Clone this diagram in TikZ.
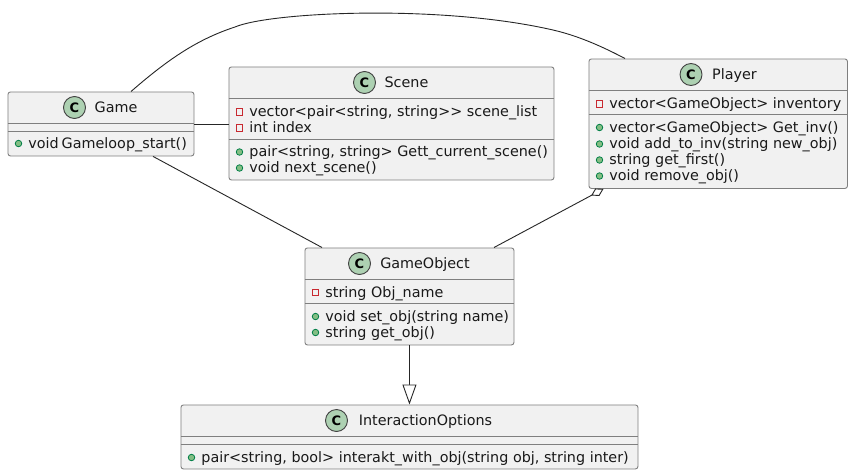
\documentclass[tikz,border=0pt]{standalone}
\usepackage{fontspec}
\setmainfont{DejaVu Sans}
\usetikzlibrary{arrows.meta,calc}
\definecolor{boxfill}{HTML}{F1F1F1}
\definecolor{boxline}{HTML}{7F7F7F}
\definecolor{badge}{HTML}{ADD1B2}
\definecolor{privred}{HTML}{C82930}
\definecolor{pubfill}{HTML}{84BE84}
\definecolor{publine}{HTML}{038048}
\tikzset{
  x=1pt,y=-1pt,
  classbox/.style={draw=boxline,fill=boxfill,line width=0.9pt,rounded corners=2.5pt,inner sep=0,anchor=north west},
  sepline/.style={draw=boxline,line width=0.9pt},
  txt/.style={inner sep=0,anchor=base west,font=\fontsize{14.35}{16}\selectfont,text=black!90},
  ctext/.style={inner sep=0,anchor=base,font=\fontsize{14.35}{16}\selectfont,text=black!90},
  badgeshape/.style={circle,draw=black!75,fill=badge,line width=0.9pt,minimum size=22pt,inner sep=0,font=\fontsize{13}{13}\bfseries\selectfont},
  priv/.style={draw=privred,line width=0.9pt,fill=none,minimum size=6.5pt,inner sep=0,rectangle},
  pub/.style={circle,draw=publine,fill=pubfill,line width=0.8pt,minimum size=6.5pt,inner sep=0},
  conn/.style={draw=black!85,line width=0.9pt},
}
% name, x0, y0, width, height, sep1 y offset, sep2 y offset
\newcommand{\classframe}[7]{%
  \node[classbox,minimum width=#4pt,minimum height=#5pt] (#1) at (#2,#3) {};
  \draw[sepline] (#2,#3+#6) -- (#2+#4,#3+#6);
  \draw[sepline] (#2,#3+#7) -- (#2+#4,#3+#7);
}
% name, x of icon centre, y of baseline, text
\newcommand{\privm}[4]{%
  \node[priv] (#1i) at (#2,#3-4.5) {};
  \node[txt] (#1) at (#2+9.7,#3) {#4};
}
\newcommand{\pubm}[4]{%
  \node[pub] (#1i) at (#2,#3-4.5) {};
  \node[txt] (#1) at (#2+9.7,#3) {#4};
}
\begin{document}
\begin{tikzpicture}
\useasboundingbox (0,0) rectangle (853,474);
\fill[white] (0,0) rectangle (853,474);

\classframe{game}{7.5}{91.5}{186}{64}{32}{40}
\node[badgeshape] (gameb) at (74.5,107.5) {C};
\node[ctext] (gamet) at (116,112) {Game};
\pubm{gamea}{18.5}{148}{void\hspace{-1.6pt} Gameloop\_start()}

\classframe{scene}{228.5}{66.5}{325}{113}{32}{72.5}
\node[badgeshape] (sceneb) at (364.5,82.5) {C};
\node[ctext] (scenet) at (406.5,87) {Scene};
\privm{scenea}{239.5}{116.5}{vector<pair<string, string>{}> scene\_list}
\privm{sceneb2}{239.5}{132.5}{int index}
\pubm{scenec}{239.5}{156.5}{pair<string, string> Gett\_current\_scene()}
\pubm{scened}{239.5}{172.5}{void next\_scene()}

\classframe{player}{588.5}{58.5}{258.5}{129.5}{32}{56}
\node[badgeshape] (playerb) at (691,74.5) {C};
\node[ctext] (playert) at (734.5,79) {Player};
\privm{playera}{599.5}{108.5}{vector<GameObject> inventory}
\pubm{playerc}{599.5}{132}{vector<GameObject> Get\_inv()}
\pubm{playerd}{599.5}{148.5}{void add\_to\_inv(string new\_obj)}
\pubm{playere}{599.5}{164.5}{string get\_first()}
\pubm{playerf}{599.5}{180.5}{void remove\_obj()}

\classframe{obj}{304.5}{247.5}{209}{97}{32}{56}
\node[badgeshape] (objb) at (359.5,263.5) {C};
\node[ctext] (objt) at (425,268.5) {GameObject};
\privm{obja}{315.5}{297}{string Obj\_name}
\pubm{objc}{315.5}{321}{void set\_obj(string name)}
\pubm{objd}{315.5}{337}{string get\_obj()}

\classframe{inter}{180.5}{404.5}{457}{64}{32}{40}
\node[badgeshape] (interb) at (336.5,420.5) {C};
\node[ctext] (intert) at (425.5,425) {InteractionOptions};
\pubm{intera}{191.5}{462}{pair<string, bool> interakt\_with\_obj(string obj, string inter)}

\draw[conn] (game.east) -- (game.east -| scene.west);
\draw[conn] ($(game.south west)+(145.5,0)$) -- ($(obj.north west)+(17.5,0)$);
\draw[conn,-{Diamond[open,fill=white,length=14pt,width=8.5pt,line width=0.9pt]}] ($(obj.north west)+(189.5,0)$) -- ($(player.south west)+(15,0)$);
\draw[conn,-{Triangle[open,fill=white,length=20pt,width=14pt,line width=0.9pt]}] (obj) -- (inter);
\draw[conn] ($(game.north west)+(123.5,0)$) .. controls (165,62) and (195,40) .. (235,27)
  .. controls (270,12) and (440,4) .. (553,30)
  .. controls (580,36.2) and (605,48) .. ($(player.north west)+(36.5,0)$);
\end{tikzpicture}
\end{document}
